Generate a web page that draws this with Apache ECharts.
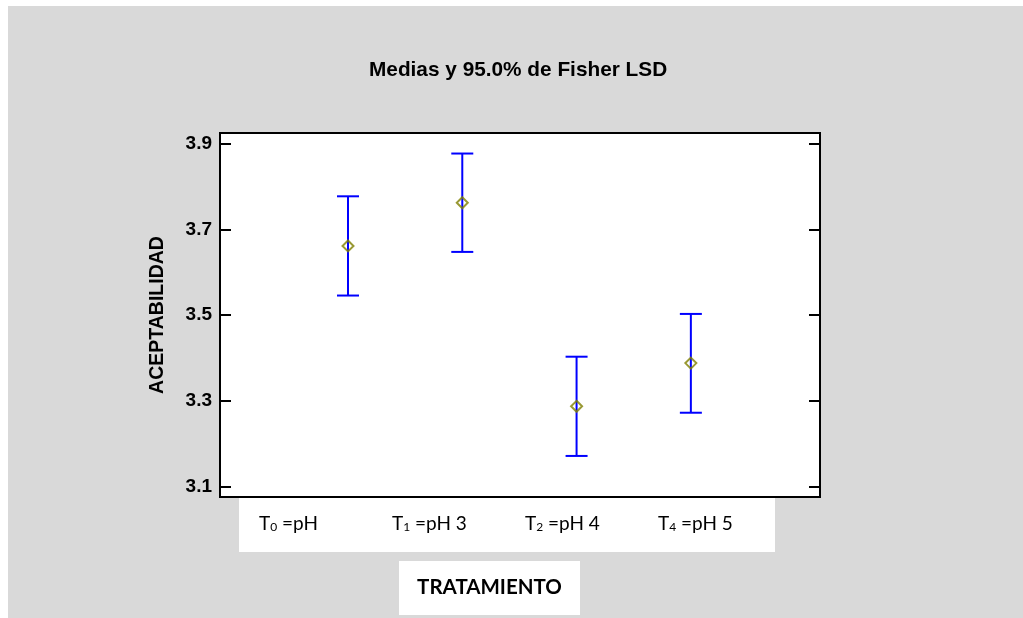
<!DOCTYPE html>
<html>
<head>
<meta charset="utf-8">
<script src="https://cdn.jsdelivr.net/npm/echarts@6/dist/echarts.min.js"></script>
<style>
  html, body { margin: 0; padding: 0; background: #ffffff; }
  #bg { position: absolute; left: 8px; top: 6px; width: 1015px; height: 612px; background: #d9d9d9; }
  #chart { position: absolute; left: 0; top: 0; width: 1023px; height: 618px; }
</style>
</head>
<body>
<div id="bg"></div>
<div id="chart"></div>
<script>
const titleText = 'Medias y 95.0% de Fisher LSD';
const yName = 'ACEPTABILIDAD';
const xName = 'TRATAMIENTO';
const categories = ['T₀ =pH', 'T₁ =pH 3', 'T₂ =pH 4', 'T₄ =pH 5'];
const means = [3.662, 3.763, 3.287, 3.388];
const lower = [3.546, 3.648, 3.171, 3.272];
const upper = [3.778, 3.878, 3.403, 3.503];
const yTicks = [3.1, 3.3, 3.5, 3.7, 3.9];
const yMin = 3.075, yMax = 3.926;

const idx = categories.map((c, i) => i);
const barData = idx.map(i => [i, lower[i], upper[i]]);
const meanData = idx.map(i => [i, means[i]]);

function subLabel(s) {
  return s.replace(/[\u2080-\u2089]/g, m => '{s|' + String.fromCharCode(m.charCodeAt(0) - 0x2080 + 48) + '}');
}

const chart = echarts.init(document.getElementById('chart'), null, { renderer: 'canvas' });
const boldFont = 'Liberation Sans';
chart.setOption({
  animation: false,
  title: {
    text: titleText, left: 369, top: 60, padding: 0,
    textStyle: { fontFamily: boldFont, fontWeight: 'bold', fontSize: 20.8, color: '#000' }
  },
  grid: [
    { left: 220, top: 133, right: 203, bottom: 121, show: true, backgroundColor: '#ffffff', borderColor: '#000', borderWidth: 2 },
    { left: 239, top: 498, width: 536, height: 54, show: true, backgroundColor: '#ffffff', borderWidth: 0 }
  ],
  xAxis: [
    { type: 'value', gridIndex: 0, min: -1.12, max: 4.13, show: false },
    {
      type: 'value', gridIndex: 1, min: -0.15, max: 3.88, position: 'bottom',
      axisLine: { show: false, onZero: false }, axisTick: { show: false }, splitLine: { show: false },
      axisLabel: {
        customValues: idx, inside: true, margin: 28, align: 'left', verticalAlign: 'middle',
        fontFamily: 'Lato', fontSize: 19, color: '#000',
        formatter: v => subLabel(categories[Math.round(v)]),
        rich: { s: { fontFamily: 'Lato', fontSize: 12, color: '#000', verticalAlign: 'bottom' } }
      }
    }
  ],
  yAxis: [
    {
      type: 'value', gridIndex: 0, min: yMin, max: yMax, position: 'left', z: 5,
      name: yName, nameLocation: 'middle', nameGap: 52, nameRotate: 90,
      nameTextStyle: { fontFamily: boldFont, fontWeight: 'bold', fontSize: 19.5, color: '#000' },
      axisLine: { show: false, onZero: false },
      splitLine: { show: false },
      axisTick: { show: true, inside: true, length: 11, customValues: yTicks, lineStyle: { color: '#000', width: 2 } },
      axisLabel: { customValues: yTicks, margin: 8, fontFamily: boldFont, fontWeight: 'bold', fontSize: 19, color: '#000', formatter: v => v.toFixed(1) }
    },
    {
      type: 'value', gridIndex: 0, min: yMin, max: yMax, position: 'right', z: 5,
      axisLine: { show: false, onZero: false }, splitLine: { show: false },
      axisTick: { show: true, inside: true, length: 11, customValues: yTicks, lineStyle: { color: '#000', width: 2 } },
      axisLabel: { show: false }
    },
    { type: 'value', gridIndex: 1, show: false, min: 0, max: 1 }
  ],
  graphic: [
    { type: 'rect', shape: { x: 399, y: 561, width: 181, height: 54 }, style: { fill: '#ffffff' }, z: 0 },
    { type: 'text', x: 489.5, y: 587, style: { text: xName, fontFamily: 'Lato', fontWeight: 'bold', fontSize: 20.5, fill: '#000', textAlign: 'center', textVerticalAlign: 'middle' }, z: 1 }
  ],
  series: [
    {
      type: 'custom', xAxisIndex: 0, yAxisIndex: 0, z: 3,
      data: barData,
      renderItem: function (params, api) {
        const x = api.value(0);
        const lo = api.coord([x, api.value(1)]);
        const hi = api.coord([x, api.value(2)]);
        const hw = 11;
        const st = { stroke: '#0000ff', lineWidth: 2 };
        return {
          type: 'group',
          children: [
            { type: 'line', shape: { x1: lo[0], y1: lo[1], x2: hi[0], y2: hi[1] }, style: st },
            { type: 'line', shape: { x1: lo[0] - hw, y1: lo[1], x2: lo[0] + hw, y2: lo[1] }, style: st },
            { type: 'line', shape: { x1: hi[0] - hw, y1: hi[1], x2: hi[0] + hw, y2: hi[1] }, style: st }
          ]
        };
      }
    },
    {
      type: 'scatter', xAxisIndex: 0, yAxisIndex: 0, z: 4,
      data: meanData, symbol: 'diamond', symbolSize: [11, 11],
      itemStyle: { color: 'rgba(0,0,0,0)', borderColor: '#808000', borderWidth: 2 }
    }
  ]
});
</script>
</body>
</html>
